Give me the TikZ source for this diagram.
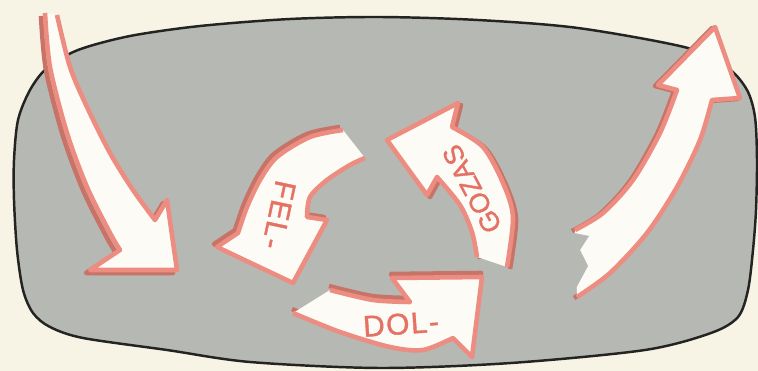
\documentclass[tikz,border=0pt]{standalone}
\usepackage{fontspec}
\usepackage{xcolor}
\newfontfamily\arrowfont[LetterSpace=5, FakeBold=1.2]{Liberation Sans}
\newfontfamily\arrowfonttight[FakeBold=1.2]{Liberation Sans}
\definecolor{paper}{RGB}{247,244,229}
\definecolor{screen}{RGB}{182,184,179}
\definecolor{rim}{RGB}{35,35,33}
\definecolor{salmon}{RGB}{237,140,128}
\definecolor{salmondark}{RGB}{200,115,103}
\definecolor{lettering}{RGB}{229,112,100}
\definecolor{arrowwhite}{RGB}{252,251,245}

\begin{document}
\begin{tikzpicture}[
  x=0.02cm, y=-0.02cm,
  arrowbody/.style={fill=arrowwhite, draw=salmon, line width=2.6pt, line join=round},
  arrowshadow/.style={preaction={draw=salmondark, line width=2.6pt, line join=round,
                      transform canvas={shift={#1}}}},
  lbl/.style={text=lettering, inner sep=0pt,
              font=\arrowfont\fontsize{17}{17}\selectfont}
]
\useasboundingbox (0,0) rectangle (758,371);
\fill[paper] (0,0) rectangle (758,371);

% screen
\filldraw[fill=screen, draw=rim, line width=1.4pt]
  plot[smooth cycle] coordinates {(47,68) (78,50) (130,36) (200,26) (290,19) (380,17)
    (478,20) (578,28) (688,48) (728,68) (747,90) (755,117) (757,160) (756,210)
    (753,250) (748,290) (738,317) (711,333) (645,350) (511,363) (380,368) (250,362)
    (167,350) (83,338) (50,327) (33,313) (23,290) (17,250) (14,200) (14,160)
    (18,120) (30,90)};

% in
\filldraw[arrowbody, arrowshadow={(-4,3)}]
  plot[smooth] coordinates {(45,13) (50,67) (67,133) (87,187) (110,233) (120,250)}
  -- (90,270) -- (177,270) -- (167,200) -- (155,220)
  -- plot[smooth] coordinates {(155,220) (133,190) (110,153) (87,107) (70,67) (57,15)};

% out
\filldraw[arrowbody, arrowshadow={(-3,1)}]
  plot[smooth] coordinates {(577,297) (610,273) (647,233) (677,187) (700,140) (712,100)}
  -- (740,98) -- (715,27) -- (658,85) -- (677,90)
  -- plot[smooth] coordinates {(677,90) (660,133) (633,180) (603,213) (575,230)};
\fill[screen] (574,233) -- (589,236) -- (580,250) -- (588,266) -- (574,292) -- cycle;

% cycle
\filldraw[arrowbody, arrowshadow={(-3,-3)}]
  plot[smooth] coordinates {(343,130) (310,137) (277,157) (260,180) (247,207) (238,233)}
  -- (217,247) -- (293,283) -- (327,220) -- (307,217)
  -- plot[smooth] coordinates {(307,217) (310,197) (327,180) (350,165) (365,158)};

\filldraw[arrowbody, arrowshadow={(-1,-4)}]
  plot[smooth] coordinates {(330,290) (373,300) (410,302)}
  -- (392,278) -- (482,277) -- (472,357) -- (453,338)
  -- plot[smooth] coordinates {(453,338) (423,350) (390,347) (340,332) (293,313)};

\filldraw[arrowbody, arrowshadow={(3,2)}]
  plot[smooth] coordinates {(507,267) (513,217) (503,183) (483,147) (452,127)}
  -- (458,103) -- (387,140) -- (427,195) -- (437,177)
  -- plot[smooth] coordinates {(437,177) (460,205) (472,232) (477,257)};

\node[lbl, rotate=-102] (fel) at (279,215) {FEL-};
\node[lbl, rotate=4] (dol) at (401,324) {DOL-};
\node[lbl, rotate=118, font=\arrowfonttight\fontsize{15.5}{15.5}\selectfont] (gozas) at (472,189) {GOZAS};
\end{tikzpicture}
\end{document}
